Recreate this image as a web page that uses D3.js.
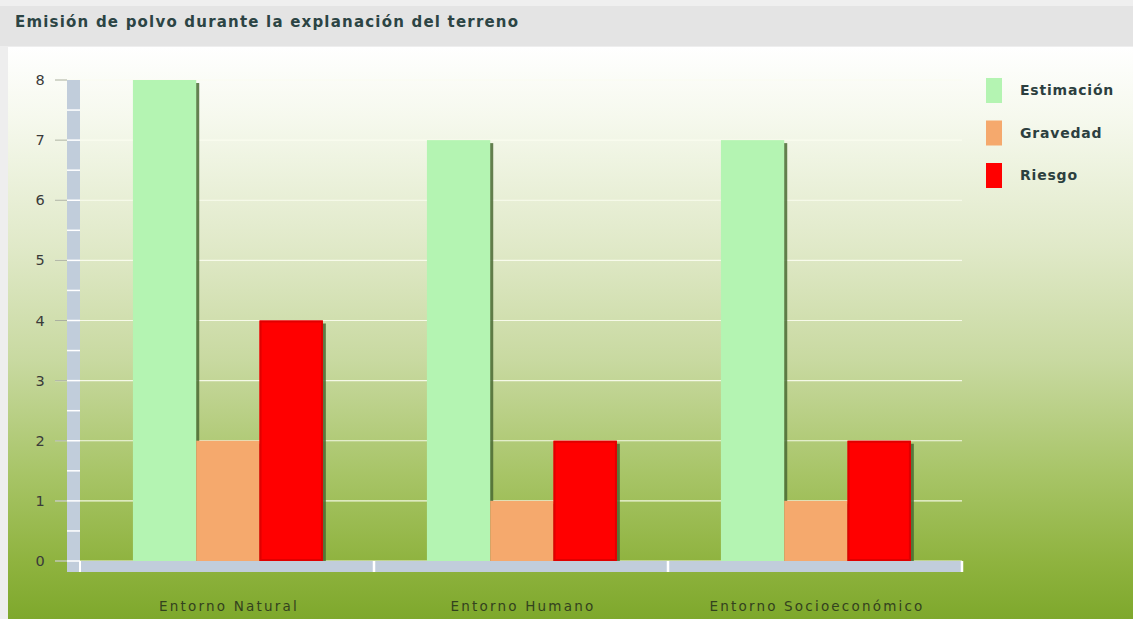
<!DOCTYPE html>
<html>
<head>
<meta charset="utf-8">
<script src="https://cdn.jsdelivr.net/npm/d3@7"></script>
<style>
  html, body { margin: 0; padding: 0; background: #ececec; }
  svg { display: block; }
</style>
</head>
<body>
<svg id="chart" width="1133" height="619"></svg>
<script>
// Chart data
const categories = ["Entorno Natural", "Entorno Humano", "Entorno Socioeconómico"];
const seriesNames = ["Estimación", "Gravedad", "Riesgo"];
const estimacion = [8, 7, 7];
const gravedad = [2, 1, 1];
const riesgo = [4, 2, 2];
const yTicks = [0, 1, 2, 3, 4, 5, 6, 7, 8];
const titleText = "Emisión de polvo durante la explanación del terreno";

const seriesValues = [estimacion, gravedad, riesgo];
const colors = ["#b4f4b2", "#f5a96d", "#ff0000"];

const W = 1133, H = 619;
const svg = d3.select("#chart");

// Panel background: title strip and gradient plot panel
const defs = svg.append("defs");
const grad = defs.append("linearGradient")
  .attr("id", "bg").attr("x1", 0).attr("y1", 0).attr("x2", 0).attr("y2", 1);
[[0, "#ffffff"], [0.12, "#f6f9ee"], [0.35, "#e0e9c8"], [0.55, "#c8d9a0"],
 [0.75, "#a7c466"], [0.9, "#8fb33f"], [1, "#7ea82c"]]
  .forEach(([o, c]) => grad.append("stop").attr("offset", o).attr("stop-color", c));

svg.append("rect").attr("x", 0).attr("y", 0).attr("width", W).attr("height", H).attr("fill", "#eeeeee");
svg.append("rect").attr("x", 0).attr("y", 0).attr("width", W).attr("height", 46).attr("fill", "#e4e4e4");
svg.append("rect").attr("x", 0).attr("y", 0).attr("width", W).attr("height", 6).attr("fill", "#efefef");
svg.append("rect").attr("x", 8).attr("y", 47).attr("width", W - 8).attr("height", H - 47).attr("fill", "url(#bg)");

svg.append("text")
  .attr("x", 15).attr("y", 27)
  .attr("font-family", "DejaVu Sans, Verdana, sans-serif")
  .attr("font-size", 15).attr("font-weight", "bold")
  .attr("letter-spacing", 1.2)
  .attr("fill", "#2c4444")
  .text(titleText);

// Scales
const plotLeft = 80, plotRight = 962, plotTop = 80, plotBottom = 561;
const x = d3.scaleBand().domain(categories).range([plotLeft, plotRight]).padding(0);
const bw = x.bandwidth();
const xs = d3.scaleBand().domain(seriesNames).range([bw * 0.18, bw * 0.826]).padding(0);
const y = d3.scaleLinear().domain([0, 8]).range([plotBottom, plotTop]);

// Gridlines
svg.append("g").selectAll("line").data(yTicks).join("line")
  .attr("x1", 55).attr("x2", plotRight)
  .attr("y1", d => y(d)).attr("y2", d => y(d))
  .attr("stroke", "#fbfdf0").attr("stroke-opacity", 0.9).attr("stroke-width", 1.2);

// Y axis band with half-unit marks
const axisCol = "#c1cddb";
svg.append("rect").attr("x", 67).attr("y", y(8)).attr("width", 13)
  .attr("height", plotBottom + 11 - y(8)).attr("fill", axisCol);
svg.append("g").selectAll("line").data(d3.range(0.5, 8, 0.5)).join("line")
  .attr("x1", 67).attr("x2", 80)
  .attr("y1", d => y(d)).attr("y2", d => y(d))
  .attr("stroke", "#ffffff").attr("stroke-width", 1.5);
// Small tick stubs left of the band
svg.append("g").selectAll("line").data(yTicks).join("line")
  .attr("x1", 55).attr("x2", 67)
  .attr("y1", d => y(d)).attr("y2", d => y(d))
  .attr("stroke", "#aab0a0").attr("stroke-width", 1);

// Y labels
svg.append("g").selectAll("text").data(yTicks).join("text")
  .attr("x", 40).attr("y", d => y(d) + 5)
  .attr("text-anchor", "middle")
  .attr("font-family", "DejaVu Sans, Verdana, sans-serif")
  .attr("font-size", 14.5)
  .attr("fill", "#3a3a3a")
  .text(d => d);

// Bars with a soft dark shadow on the right
const groups = svg.append("g").selectAll("g").data(categories).join("g")
  .attr("transform", d => `translate(${x(d)},0)`);
groups.each(function (cat, ci) {
  const g = d3.select(this);
  seriesNames.forEach((s, si) => {
    const v = seriesValues[si][ci];
    const bx = xs(s), bwid = xs.bandwidth();
    g.append("rect")
      .attr("x", bx + 3).attr("y", y(v) + 3)
      .attr("width", bwid).attr("height", plotBottom - y(v) - 3)
      .attr("fill", "#4a6a34").attr("opacity", 0.85);
    g.append("rect")
      .attr("x", bx).attr("y", y(v))
      .attr("width", bwid).attr("height", plotBottom - y(v))
      .attr("fill", colors[si]);
    if (si === 2) {
      g.append("rect")
        .attr("x", bx + 1).attr("y", y(v) + 1)
        .attr("width", bwid - 2).attr("height", plotBottom - y(v) - 2)
        .attr("fill", "none").attr("stroke", "#e00000").attr("stroke-width", 2);
    }
  });
});

// X axis band
svg.append("rect").attr("x", 67).attr("y", plotBottom).attr("width", plotRight - 67)
  .attr("height", 11).attr("fill", axisCol);
svg.append("g").selectAll("line").data(categories).join("line")
  .attr("x1", d => x(d) + bw).attr("x2", d => x(d) + bw)
  .attr("y1", plotBottom).attr("y2", plotBottom + 11)
  .attr("stroke", "#ffffff").attr("stroke-width", 2.5);
svg.append("line").attr("x1", plotLeft).attr("x2", plotLeft)
  .attr("y1", plotBottom).attr("y2", plotBottom + 11)
  .attr("stroke", "#ffffff").attr("stroke-width", 2);
svg.append("line").attr("x1", 67).attr("x2", plotLeft)
  .attr("y1", plotBottom).attr("y2", plotBottom)
  .attr("stroke", "#ffffff").attr("stroke-width", 1.5);

// X labels
svg.append("g").selectAll("text").data(categories).join("text")
  .attr("x", d => x(d) + bw / 2 + 2).attr("y", 611)
  .attr("text-anchor", "middle")
  .attr("font-family", "DejaVu Sans, Verdana, sans-serif")
  .attr("font-size", 13.5).attr("letter-spacing", 2.2)
  .attr("fill", "#33421e")
  .text(d => d);

// Legend
const legend = svg.append("g").selectAll("g").data(seriesNames).join("g")
  .attr("transform", (d, i) => `translate(986,${78 + i * 42.5})`);
legend.append("rect").attr("width", 16).attr("height", 25).attr("fill", (d, i) => colors[i]);
legend.append("text")
  .attr("x", 34).attr("y", 17)
  .attr("font-family", "DejaVu Sans, Verdana, sans-serif")
  .attr("font-size", 14).attr("font-weight", "bold")
  .attr("letter-spacing", 0.8)
  .attr("fill", "#2c3f3f")
  .text(d => d);
</script>
</body>
</html>
